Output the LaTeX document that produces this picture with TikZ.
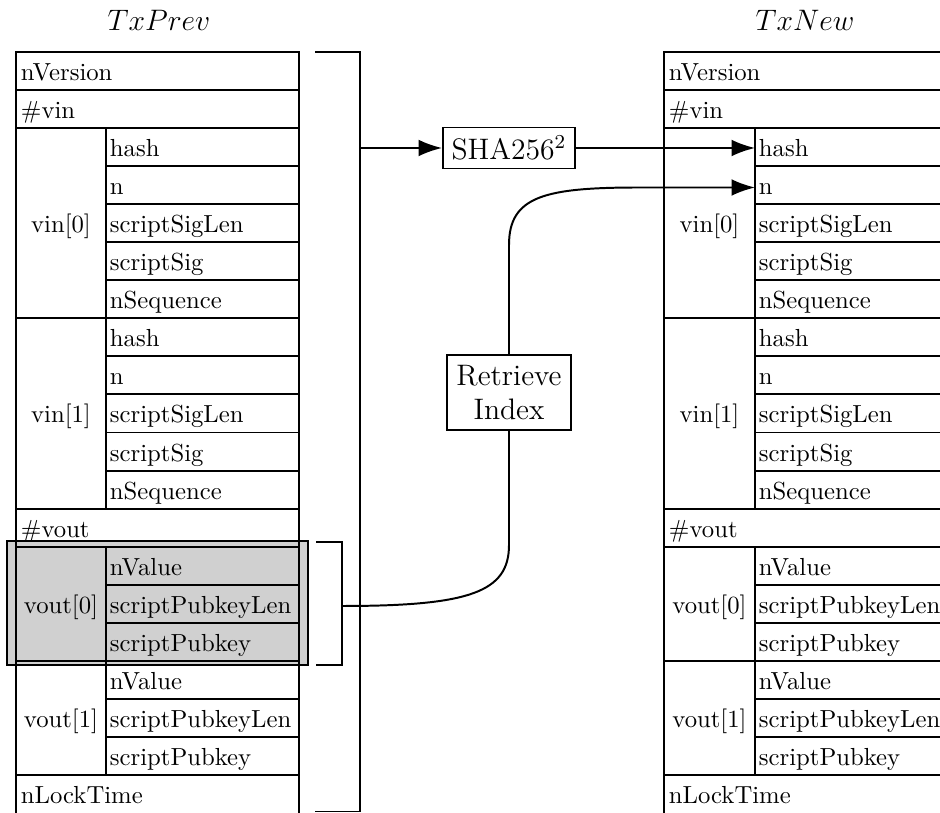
\documentclass[tikz,border=0pt]{standalone}
\usetikzlibrary{arrows.meta}
\definecolor{hl}{RGB}{208,208,208}
\begin{document}
\begin{tikzpicture}[x=0.405pt,y=-0.405pt,line width=0.8pt,
  celltext/.style={anchor=base west,inner sep=0pt},
  grptext/.style={anchor=base,inner sep=0pt},
  titletext/.style={anchor=base,inner sep=0pt,font=\large},
  procbox/.style={draw,fill=white,font=\large,inner xsep=3pt,inner ysep=3pt,align=center},
  arr/.style={-{Latex[length=9.5pt,width=6.8pt]}}]
\useasboundingbox (0,0) rectangle (940,813);
\clip (0,0) rectangle (940,813);
\def\rh{38.05}
\def\ty{52}
% highlight of vout[0] in TxPrev
\node[draw,fill=hl,minimum width=301*0.405pt,minimum height=124*0.405pt,inner sep=0pt] (hlbox) at (157.5,603) {};
% tables
\foreach \X/\D/\P in {16/90/L,664/91/R}{
  \draw (\X,\ty+20*\rh+3) -- (\X,\ty) -- ++(283,0) -- (\X+283,\ty+20*\rh+3);
  \foreach \k in {1,2,7,12,13,16,19}
    \draw (\X,\ty+\k*\rh) -- ++(283,0);
  \foreach \k in {3,4,5,6,8,9,10,11,14,15,17,18}
    \draw (\X+\D,\ty+\k*\rh) -- (\X+283,\ty+\k*\rh);
  \draw (\X+\D,\ty+2*\rh) -- (\X+\D,\ty+12*\rh);
  \draw (\X+\D,\ty+13*\rh) -- (\X+\D,\ty+19*\rh);
  % full-width rows
  \foreach \k/\t/\n in {0/nVersion/ver,1/\#vin/nvin,12/\#vout/nvout,19/nLockTime/lock}
    \node[celltext] (\P-\n) at (\X+4,\ty+\k*\rh+\rh-9.5) {\t};
  % inputs
  \foreach \g/\s in {0/2,1/7}{
    \foreach \i/\t/\n in {0/hash/hash,1/n/n,2/scriptSigLen/ssl,3/scriptSig/ss,4/nSequence/seq}
      \node[celltext] (\P-vin\g-\n) at (\X+\D+3,\ty+\s*\rh+\i*\rh+\rh-9.5) {\t};
    \node[grptext] (\P-vin\g) at (\X+\D/2,\ty+\s*\rh+3*\rh-9.5) {vin[\g]};
  }
  % outputs
  \foreach \g/\s in {0/13,1/16}{
    \foreach \i/\t/\n in {0/nValue/val,1/scriptPubkeyLen/spl,2/scriptPubkey/sp}
      \node[celltext] (\P-vout\g-\n) at (\X+\D+3,\ty+\s*\rh+\i*\rh+\rh-9.5) {\t};
    \node[grptext] (\P-vout\g) at (\X+\D/2,\ty+\s*\rh+2*\rh-9.5) {vout[\g]};
  }
}
% titles
\node[titletext] (tprev) at (159,31) {$TxPrev$};
\node[titletext] (tnew) at (805,31) {$TxNew$};
% brackets
\draw (315,52) -- (360,52) -- (360,811.5) -- (315,811.5);
\draw (316,542) -- (342,542) -- (342,665) -- (316,665);
\coordinate (bA) at (360,148);
\coordinate (bB) at (342,606);
\coordinate (Rhash) at (755,148);
\coordinate (Rn) at (755,187.5);
% process boxes
\node[procbox,minimum width=132*0.405pt,minimum height=41*0.405pt] (sha) at (509,148) {SHA256$^2$};
\node[procbox,minimum width=124*0.405pt,minimum height=75*0.405pt] (ri) at (509,392.5) {Retrieve\\Index};
% connectors
\draw[arr] (bA) -- (sha.west);
\draw[arr] (sha.east) -- (Rhash);
\draw (bB) .. controls (470,606) and (509,592) .. (509,545) -- (ri.south);
\draw[arr] (ri.north) -- (509,245) .. controls (509,196) and (545,187.5) .. (640,187.5) -- (Rn);
\end{tikzpicture}
\end{document}
